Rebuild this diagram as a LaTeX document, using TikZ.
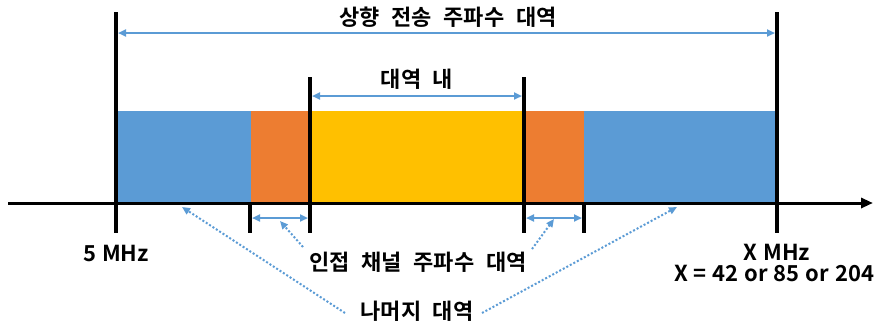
\documentclass[tikz,border=0pt]{standalone}
\usepackage{fontspec}
\setmainfont{Noto Sans CJK KR}[BoldFont={Noto Sans CJK KR Bold}]
\newfontfamily\kr{Noto Sans CJK KR Bold}
\newcommand\krfont{\kr\fontsize{22}{24}\selectfont\spaceskip 0.53em\relax}
\newcommand\latfont{\kr\fontsize{22}{24}\selectfont\spaceskip 0.27em\relax}
\usetikzlibrary{arrows.meta}
\definecolor{barblue}{HTML}{5B9BD5}
\definecolor{barorange}{HTML}{ED7D31}
\definecolor{baryellow}{HTML}{FFC000}
\definecolor{arrblue}{HTML}{5B9BD5}
\tikzset{
  x=1pt, y=-1pt,
  tick/.style={line width=3.5pt, black},
  axisline/.style={line width=3pt, black, -{Triangle[length=12pt,width=10pt]}},
  span/.style={line width=2.2pt, arrblue, {Triangle[length=8pt,width=7pt]}-{Triangle[length=8pt,width=7pt]}},
  pointer/.style={line width=2pt, arrblue, dotted, -{Triangle[length=8pt,width=7pt]}},
  lbl/.style={font=\krfont, inner sep=0pt, text=black},
  llbl/.style={font=\latfont, inner sep=0pt, text=black},
}
\begin{document}
\begin{tikzpicture}
\useasboundingbox (0,0) rectangle (888,325);
% bars
\fill[barblue] (116,111) rectangle (251,203);
\fill[barorange] (251,111) rectangle (310,203);
\fill[baryellow] (310,111) rectangle (524,203);
\fill[barorange] (524,111) rectangle (584,203);
\fill[barblue] (584,111) rectangle (777,203);
% coordinates
\coordinate (ax0) at (8,203);
\coordinate (ax1) at (873,203);
\coordinate (t1a) at (116,12); \coordinate (t1b) at (116,233);
\coordinate (t2a) at (250,203); \coordinate (t2b) at (250,233);
\coordinate (t3a) at (310,77); \coordinate (t3b) at (310,233);
\coordinate (t4a) at (524,77); \coordinate (t4b) at (524,233);
\coordinate (t5a) at (584,203); \coordinate (t5b) at (584,233);
\coordinate (t6a) at (777,12); \coordinate (t6b) at (777,233);
% axis
\draw[axisline] (ax0) -- (ax1);
% ticks
\draw[tick] (t1a) -- (t1b);
\draw[tick] (t2a) -- (t2b);
\draw[tick] (t3a) -- (t3b);
\draw[tick] (t4a) -- (t4b);
\draw[tick] (t5a) -- (t5b);
\draw[tick] (t6a) -- (t6b);
% span arrows
\coordinate (s1a) at (118,33); \coordinate (s1b) at (775,33);
\coordinate (s2a) at (312,96); \coordinate (s2b) at (522,96);
\coordinate (s3a) at (252,218); \coordinate (s3b) at (308,218);
\coordinate (s4a) at (526,218); \coordinate (s4b) at (582,218);
\draw[span] (s1a) -- (s1b);
\draw[span] (s2a) -- (s2b);
\draw[span] (s3a) -- (s3b);
\draw[span] (s4a) -- (s4b);
% labels
\node[lbl] (up) at (448,17) {상향 전송 주파수 대역};
\node[lbl] (inb) at (417,79) {대역 내};
\node[llbl] (f5) at (116,253) {5 MHz};
\node[llbl] (fx) at (777,252) {X MHz};
\node[llbl] (fxv) at (774,273) {X = 42 or 85 or 204};
\node[lbl] (adj) at (418,262) {인접 채널 주파수 대역};
\node[lbl] (rest) at (417,311) {나머지 대역};
% pointers
\coordinate (p1) at (280,221);
\coordinate (p2) at (554,219);
\coordinate (p3) at (182,207);
\coordinate (p4) at (677,207);
\coordinate (q1) at (303,247);
\coordinate (q2) at (532,249);
\coordinate (q3) at (345,313);
\coordinate (q4) at (482,313);
\draw[pointer] (q1) -- (p1);
\draw[pointer] (q2) -- (p2);
\draw[pointer] (q3) -- (p3);
\draw[pointer] (q4) -- (p4);
\end{tikzpicture}
\end{document}
